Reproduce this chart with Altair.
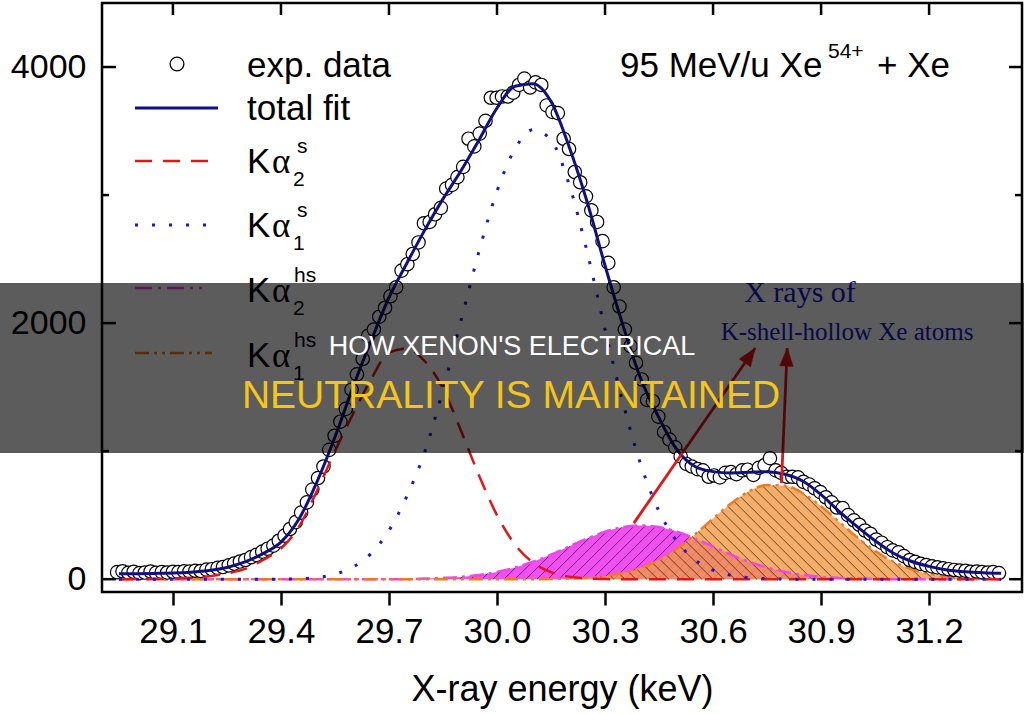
import math

import altair as alt
import numpy as np
import pandas as pd

SANS = "Liberation Sans"
SERIF = "Liberation Serif"

# ---------------------------------------------------------------------------
# Measured K x-ray spectrum, 95 MeV/u Xe54+ + Xe
# ---------------------------------------------------------------------------
energy_kev = [
    28.945, 28.960, 28.976, 28.991, 29.007, 29.022, 29.038, 29.053, 29.069, 29.084,
    29.100, 29.115, 29.131, 29.146, 29.162, 29.177, 29.193, 29.208, 29.224, 29.239,
    29.255, 29.270, 29.286, 29.301, 29.317, 29.332, 29.348, 29.363, 29.379, 29.394,
    29.410, 29.425, 29.441, 29.456, 29.472, 29.487, 29.503, 29.518, 29.534, 29.549,
    29.565, 29.580, 29.596, 29.611, 29.627, 29.642, 29.658, 29.673, 29.689, 29.704,
    29.720, 29.735, 29.751, 29.766, 29.782, 29.797, 29.813, 29.828, 29.844, 29.859,
    29.875, 29.890, 29.906, 29.921, 29.937, 29.952, 29.968, 29.983, 29.999, 30.014,
    30.030, 30.045, 30.061, 30.076, 30.092, 30.107, 30.123, 30.138, 30.154, 30.169,
    30.185, 30.200, 30.216, 30.231, 30.247, 30.262, 30.278, 30.293, 30.309, 30.324,
    30.340, 30.355, 30.371, 30.386, 30.402, 30.417, 30.433, 30.448, 30.464, 30.479,
    30.495, 30.510, 30.526, 30.541, 30.557, 30.572, 30.588, 30.603, 30.619, 30.634,
    30.650, 30.665, 30.681, 30.696, 30.712, 30.727, 30.743, 30.758, 30.774, 30.789,
    30.805, 30.820, 30.836, 30.851, 30.867, 30.882, 30.898, 30.913, 30.929, 30.944,
    30.960, 30.975, 30.991, 31.006, 31.022, 31.037, 31.053, 31.068, 31.084, 31.099,
    31.115, 31.130, 31.146, 31.161, 31.177, 31.192, 31.208, 31.223, 31.239, 31.254,
    31.270, 31.285, 31.301, 31.316, 31.332, 31.347, 31.363, 31.378, 31.394,
]
counts = [
    55, 62, 50, 58, 48, 52, 60, 49, 55, 52,
    58, 55, 62, 60, 66, 64, 75, 78, 88, 95,
    108, 122, 138, 150, 172, 190, 215, 238, 262, 300,
    340, 392, 446, 520, 600, 700, 790, 880, 1010, 1120,
    1230, 1330, 1480, 1600, 1720, 1900, 1950, 2050, 2120, 2210,
    2280, 2410, 2460, 2540, 2630, 2780, 2790, 2850, 2900, 3050,
    3080, 3140, 3220, 3440, 3380, 3480, 3580, 3760, 3760, 3770,
    3770, 3800, 3860, 3910, 3840, 3880, 3860, 3700, 3650, 3640,
    3440, 3360, 3180, 3100, 2990, 2880, 2790, 2640, 2470, 2280,
    2130, 1950, 1820, 1690, 1560, 1400, 1390, 1270, 1150, 1090,
    1030, 960, 900, 880, 860, 850, 800, 810, 795, 830,
    836, 820, 850, 855, 815, 870, 890, 945, 850, 830,
    800, 800, 795, 760, 740, 710, 680, 640, 600, 560,
    555, 500, 460, 425, 380, 355, 310, 285, 250, 225,
    210, 180, 150, 135, 120, 110, 100, 92, 85, 78,
    72, 68, 66, 58, 60, 55, 52, 55, 48,
]

# ---------------------------------------------------------------------------
# Fit result on a 0.05 keV grid: total and the four K-alpha components
# ---------------------------------------------------------------------------
fit_energy = [
    28.95, 29.00, 29.05, 29.10, 29.15, 29.20, 29.25, 29.30, 29.35, 29.40,
    29.45, 29.50, 29.55, 29.60, 29.65, 29.70, 29.75, 29.80, 29.85, 29.90,
    29.95, 30.00, 30.05, 30.10, 30.15, 30.20, 30.25, 30.30, 30.35, 30.40,
    30.45, 30.50, 30.55, 30.60, 30.65, 30.70, 30.75, 30.80, 30.85, 30.90,
    30.95, 31.00, 31.05, 31.10, 31.15, 31.20, 31.25, 31.30, 31.35, 31.40,
]
total_fit = [
    42, 43, 45, 48, 55, 68, 92, 135, 200, 290,
    470, 760, 1110, 1500, 1860, 2200, 2470, 2730, 2970, 3190,
    3430, 3680, 3850, 3870, 3730, 3380, 2950, 2450, 1980, 1560,
    1260, 1010, 880, 840, 830, 835, 840, 820, 765, 660,
    530, 410, 300, 205, 140, 100, 72, 58, 50, 46,
]
ka2_s = [
    0, 1, 3, 6, 12, 22, 45, 80, 150, 240,
    410, 690, 1000, 1290, 1560, 1770, 1800, 1700, 1490, 1160,
    810, 500, 270, 130, 55, 20, 6, 1, 0, 0,
    0, 0, 0, 0, 0, 0, 0, 0, 0, 0,
    0, 0, 0, 0, 0, 0, 0, 0, 0, 0,
]
ka1_s = [
    0, 0, 0, 0, 0, 0, 0, 0, 0, 1,
    4, 12, 40, 95, 200, 380, 650, 1000, 1480, 2020,
    2560, 3030, 3360, 3510, 3430, 3085, 2560, 1950, 1375, 890,
    530, 295, 150, 70, 30, 12, 4, 1, 0, 0,
    0, 0, 0, 0, 0, 0, 0, 0, 0, 0,
]
ka2_hs = [
    0, 0, 0, 0, 0, 0, 0, 0, 0, 0,
    0, 0, 0, 0, 0, 0, 0, 5, 10, 18,
    33, 57, 91, 136, 192, 255, 317, 371, 407, 420,
    407, 371, 317, 255, 192, 136, 91, 57, 33, 18,
    10, 5, 2, 0, 0, 0, 0, 0, 0, 0,
]
ka1_hs = [
    0, 0, 0, 0, 0, 0, 0, 0, 0, 0,
    0, 0, 0, 0, 0, 0, 0, 0, 0, 0,
    0, 0, 0, 0, 2, 5, 11, 24, 49, 90,
    152, 240, 351, 474, 592, 686, 735, 730, 670, 570,
    449, 327, 221, 138, 80, 43, 21, 10, 4, 2,
]

x_ticks = [29.1, 29.4, 29.7, 30.0, 30.3, 30.6, 30.9, 31.2]
y_major = [0, 2000, 4000]
y_minor = [1000, 3000]

# arrows from the hollow-atom peaks up to the annotation
arrow_from_x = [30.38, 30.79]
arrow_from_y = [438, 750]
arrow_to_x = [30.717, 30.806]
arrow_to_y = [1805, 1805]

# ---------------------------------------------------------------------------
# Geometry and scales
# ---------------------------------------------------------------------------
W, H = 920, 589
X_DOM = [28.903, 31.458]
Y_DOM = [-100, 4500]
kev_px = W / (X_DOM[1] - X_DOM[0])
cnt_px = H / (Y_DOM[1] - Y_DOM[0])

RED = "#e41515"
BLUE = "#1818d0"
NAVY = "#101080"
MAGENTA = "#f046f0"
ORANGE = "#f39a45"
ORANGE_LINE = "#f07a20"

xs = alt.Scale(domain=X_DOM, nice=False, zero=False)
ys = alt.Scale(domain=Y_DOM, nice=False, zero=False)

x_axis = alt.Axis(
    values=x_ticks, format=".1f", grid=False, domain=False,
    tickSize=13, tickWidth=2.5, tickColor="black",
    labelFont=SANS, labelFontSize=35, labelColor="black", labelPadding=9,
    labelFlush=False,
    title="X-ray energy (keV)", titleFont=SANS, titleFontSize=36,
    titleFontWeight="normal", titleColor="black", titleBaseline="alphabetic",
    titleY=108,
)
y_axis = alt.Axis(
    values=y_major, format="d", grid=False, domain=False, ticks=False, tickSize=0,
    labelFont=SANS, labelFontSize=34, labelColor="black", labelPadding=16,
    title="",
)
X = alt.X("x:Q", scale=xs, axis=x_axis)
Y = alt.Y("y:Q", scale=ys, axis=y_axis)


def curve_df(vals):
    return pd.DataFrame({"x": fit_energy, "y": vals})


def hatch_segments(curve, spacing_px, lean):
    """45-degree hatch lines from the baseline up to a fitted component."""
    gx = np.asarray(fit_energy, float)
    gy = np.asarray(curve, float)
    fx = np.linspace(gx[0], gx[-1], 6000)
    fy = np.interp(fx, gx, gy)
    rise = kev_px / cnt_px
    step = spacing_px / kev_px
    rows = []
    x0 = gx[0]
    while x0 <= gx[-1]:
        if lean > 0:
            sel = fx >= x0
            px, py = fx[sel], fy[sel]
            line = (px - x0) * rise
        else:
            sel = fx <= x0
            px, py = fx[sel][::-1], fy[sel][::-1]
            line = (x0 - px) * rise
        if len(px) > 2 and py[0] * cnt_px > 2:
            hit = np.nonzero(line[1:] >= py[1:])[0]
            if len(hit):
                k = hit[0] + 1
                rows.append({"x": float(x0), "y": 0.0,
                             "x2": float(px[k]), "y2": float(py[k])})
        x0 += step
    return pd.DataFrame(rows)


one = pd.DataFrame({"k": [0]})


def text_at(text, px, py, size, font=SANS, color="black", align="left"):
    return alt.Chart(one).mark_text(
        text=text, font=font, fontSize=size, color=color,
        align=align, baseline="alphabetic",
    ).encode(x=alt.value(px), y=alt.value(py))


def sample_line(py, color, x_end, dash=None, width=2.5):
    kw = dict(color=color, strokeWidth=width)
    if dash:
        kw["strokeDash"] = dash
    return alt.Chart(one).mark_rule(**kw).encode(
        x=alt.value(33), x2=alt.value(x_end), y=alt.value(py))


# ---------------------------------------------------------------------------
# Layers
# ---------------------------------------------------------------------------
hs2_area = alt.Chart(curve_df(ka2_hs)).mark_area(
    color=MAGENTA, opacity=0.95, interpolate="monotone"
).encode(x=X, y=Y, y2=alt.datum(0))
hs2_hatch = alt.Chart(hatch_segments(ka2_hs, 11, +1)).mark_rule(
    color="#3a1a3a", strokeWidth=0.9, opacity=0.85
).encode(x=X, y=Y, x2="x2:Q", y2="y2:Q")
hs1_area = alt.Chart(curve_df(ka1_hs)).mark_area(
    color=ORANGE, opacity=0.8, interpolate="monotone"
).encode(x=X, y=Y, y2=alt.datum(0))
hs1_hatch = alt.Chart(hatch_segments(ka1_hs, 11, -1)).mark_rule(
    color="#3a2410", strokeWidth=0.9, opacity=0.85
).encode(x=X, y=Y, x2="x2:Q", y2="y2:Q")

hs2_line = alt.Chart(curve_df(ka2_hs)).mark_line(
    color=MAGENTA, strokeWidth=2.5, strokeDash=[14, 5, 3, 5], interpolate="monotone"
).encode(x=X, y=Y)
hs1_line = alt.Chart(curve_df(ka1_hs)).mark_line(
    color=ORANGE_LINE, strokeWidth=2.5, strokeDash=[14, 5, 3, 5, 3, 5],
    interpolate="monotone"
).encode(x=X, y=Y)

points = alt.Chart(pd.DataFrame({"x": energy_kev, "y": counts})).mark_point(
    shape="circle", filled=True, fill="white", stroke="black",
    strokeWidth=1.2, size=180, opacity=1
).encode(x=X, y=Y)

s2_line = alt.Chart(curve_df(ka2_s)).mark_line(
    color=RED, strokeWidth=2.5, strokeDash=[17, 11], interpolate="monotone"
).encode(x=X, y=Y)
s1_line = alt.Chart(curve_df(ka1_s)).mark_line(
    color=BLUE, strokeWidth=3, strokeDash=[3, 14], interpolate="monotone"
).encode(x=X, y=Y)
fit_line = alt.Chart(curve_df(total_fit)).mark_line(
    color=NAVY, strokeWidth=3, interpolate="monotone"
).encode(x=X, y=Y)

# arrows
arrow_df = pd.DataFrame({
    "x": arrow_from_x, "y": arrow_from_y, "x2": arrow_to_x, "y2": arrow_to_y,
})
arrow_df["tx"] = arrow_to_x
arrow_df["ty"] = arrow_to_y
arrow_df["ang"] = [
    math.degrees(math.atan2((b - a) * kev_px, (d - c) * cnt_px))
    for a, b, c, d in zip(arrow_from_x, arrow_to_x, arrow_from_y, arrow_to_y)
]
arrow_shafts = alt.Chart(arrow_df).mark_rule(color=RED, strokeWidth=2.8).encode(
    x=X, y=Y, x2="x2:Q", y2="y2:Q")
arrow_heads = alt.Chart(
    pd.DataFrame({"x": arrow_to_x, "y": arrow_to_y, "ang": arrow_df["ang"]})
).mark_point(
    shape="M0,0L-0.38,1L0.38,1Z", filled=True, fill=RED, stroke=RED,
    strokeWidth=0.5, size=1300, opacity=1
).encode(x=X, y=Y, angle=alt.Angle("ang:Q", scale=None))

# inward ticks on the left, right and top edges of the frame
tick_style = dict(color="black", strokeWidth=2.5)
left_major = alt.Chart(pd.DataFrame({"y": y_major})).mark_rule(**tick_style).encode(
    y=Y, x=alt.value(0), x2=alt.value(14))
left_minor = alt.Chart(pd.DataFrame({"y": y_minor})).mark_rule(**tick_style).encode(
    y=Y, x=alt.value(0), x2=alt.value(7))
right_major = alt.Chart(pd.DataFrame({"y": y_major})).mark_rule(**tick_style).encode(
    y=Y, x=alt.value(W - 13), x2=alt.value(W))
right_minor = alt.Chart(pd.DataFrame({"y": y_minor})).mark_rule(**tick_style).encode(
    y=Y, x=alt.value(W - 7), x2=alt.value(W))
top_major = alt.Chart(pd.DataFrame({"x": x_ticks})).mark_rule(**tick_style).encode(
    x=X, y=alt.value(0), y2=alt.value(12))

# legend
legend_circle = alt.Chart(one).mark_point(
    shape="circle", filled=True, fill="white", stroke="black",
    strokeWidth=1.3, size=190, opacity=1
).encode(x=alt.value(75), y=alt.value(61))
legend = [
    legend_circle,
    text_at("exp. data", 145, 74, 35),
    sample_line(105, NAVY, 116, width=3),
    text_at("total fit", 145, 117, 35),
    sample_line(158, RED, 110, dash=[17, 11]),
    sample_line(222, BLUE, 104, dash=[3, 14], width=3),
    sample_line(285, MAGENTA, 100, dash=[17, 6, 3, 6]),
    sample_line(350, ORANGE_LINE, 110, dash=[14, 5, 3, 5, 3, 5]),
]
for base, sub, sup in [(170, "2", "s"), (234, "1", "s"), (299, "2", "hs"), (364, "1", "hs")]:
    legend += [
        text_at("K", 145, base, 35),
        text_at("\u03b1", 170, base, 35, font=SERIF),
        text_at(sub, 191, base + 13, 21),
        text_at(sup, 192 if sup == "hs" else 195, base - 20, 21),
    ]

# reaction label
reaction = [
    text_at("95 MeV/u Xe", 518, 74, 35),
    text_at("54+", 726, 55, 21),
    text_at("+ Xe", 775, 74, 35),
]

# annotation for the hollow-atom lines
annotation = [
    text_at("X rays of", 698, 299, 30, font=SERIF, color=BLUE, align="center"),
    text_at("K-shell-hollow Xe atoms", 745, 337, 25, font=SERIF, color=BLUE,
            align="center"),
]

# headline band across the figure
band = alt.Chart(one).mark_rect(color="black", opacity=0.64).encode(
    x=alt.value(-102), x2=alt.value(W + 2), y=alt.value(280), y2=alt.value(450))
headline = [
    band,
    text_at("HOW XENON'S ELECTRICAL", 410, 352, 27, color="white", align="center"),
    text_at("NEUTRALITY IS MAINTAINED", 409, 405, 39, color="#f5c518",
            align="center"),
]

layers = [
    hs2_area, hs2_hatch, hs1_area, hs1_hatch, hs2_line, hs1_line,
    points, s2_line, s1_line, fit_line, arrow_shafts, arrow_heads,
    left_major, left_minor, right_major, right_minor, top_major,
] + legend + reaction + annotation + headline

chart = alt.layer(*layers).properties(
    width=W,
    height=H,
    autosize="none",
    padding={"left": 102, "top": 3, "right": 2, "bottom": 122},
    background="white",
).configure_view(stroke="black", strokeWidth=2.5)

chart.save("out.html", embed_options={"renderer": "svg", "actions": False})
